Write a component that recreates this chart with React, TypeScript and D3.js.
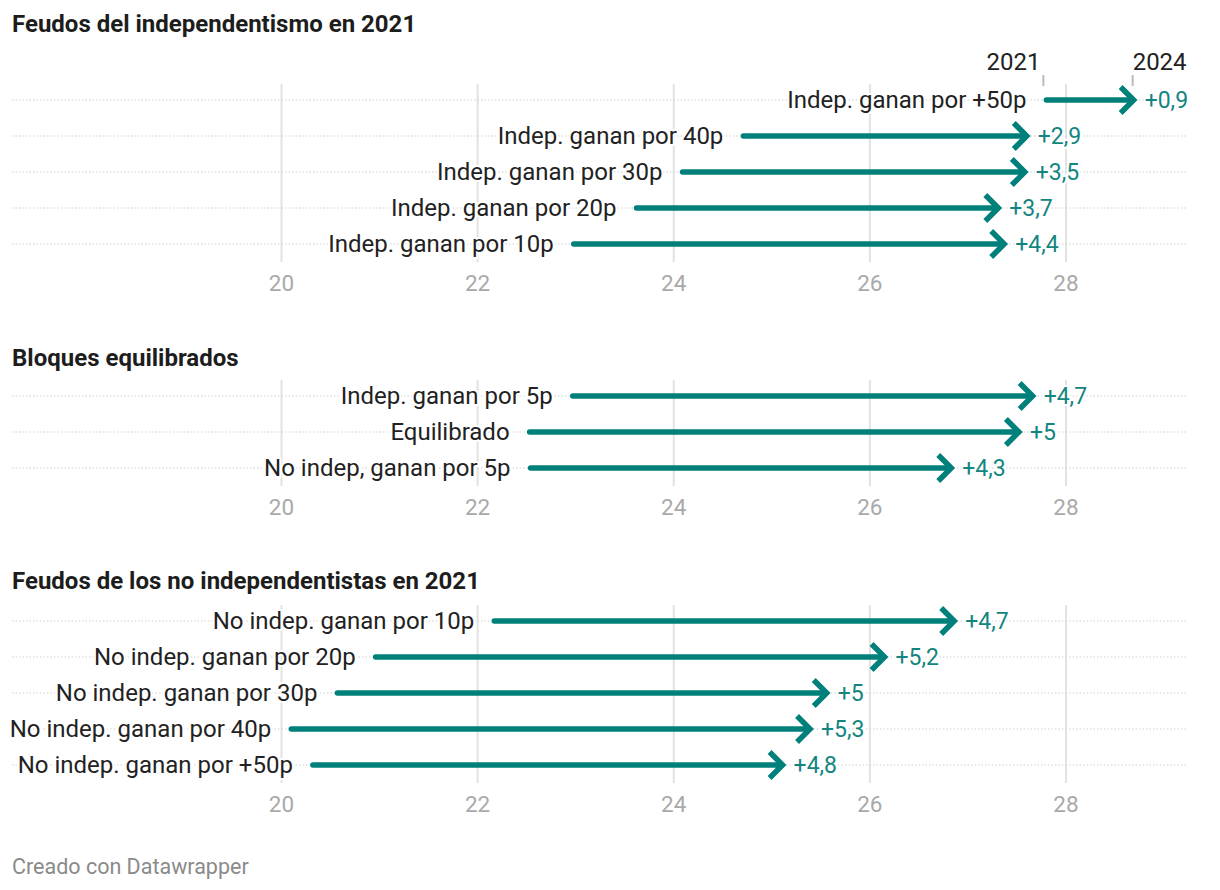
import React from "react";
import * as d3 from "d3";

const sectionTitles = [
  "Feudos del independentismo en 2021",
  "Bloques equilibrados",
  "Feudos de los no independentistas en 2021",
];

const labels1 = [
  "Indep. ganan por +50p",
  "Indep. ganan por 40p",
  "Indep. ganan por 30p",
  "Indep. ganan por 20p",
  "Indep. ganan por 10p",
];
const start1 = [27.8, 24.71, 24.09, 23.62, 22.98];
const end1 = [28.7, 27.61, 27.59, 27.32, 27.38];

const labels2 = ["Indep. ganan por 5p", "Equilibrado", "No indep, ganan por 5p"];
const start2 = [22.97, 22.53, 22.54];
const end2 = [27.67, 27.53, 26.84];

const labels3 = [
  "No indep. ganan por 10p",
  "No indep. ganan por 20p",
  "No indep. ganan por 30p",
  "No indep. ganan por 40p",
  "No indep. ganan por +50p",
];
const start3 = [22.17, 20.96, 20.57, 20.1, 20.32];
const end3 = [26.87, 26.16, 25.57, 25.4, 25.12];

const xTicks = [20, 22, 24, 26, 28];
const yearLabels = ["2021", "2024"];
const footer = "Creado con Datawrapper";

const W = 1220;
const H = 890;
const TEAL = "#00807b";
const FONT = "Roboto, 'Noto Sans', sans-serif";

const x = d3.scaleLinear().domain([20, 28]).range([281.5, 1066]);

const sections = [
  { title: sectionTitles[0], labels: labels1, start: start1, end: end1, titleY: 24, firstRow: 100 },
  { title: sectionTitles[1], labels: labels2, start: start2, end: end2, titleY: 358, firstRow: 396 },
  { title: sectionTitles[2], labels: labels3, start: start3, end: end3, titleY: 581, firstRow: 621 },
];
const ROW = 36;

const fmt = (v: number) => {
  const r = Math.round(v * 10) / 10;
  const s = Number.isInteger(r) ? String(r) : r.toFixed(1).replace(".", ",");
  return (r >= 0 ? "+" : "") + s;
};

export default function App() {
  return (
    <div style={{ position: "absolute", left: 0, top: 0 }}>
      <svg width={W} height={H} style={{ display: "block", background: "#fff" }} fontFamily={FONT}>
        {sections.map((sec, si) => {
          const rows = sec.labels.map((_, i) => sec.firstRow + i * ROW);
          const gTop = rows[0] - 16;
          const gBot = rows[rows.length - 1] + 18;
          const axisY = rows[rows.length - 1] + 39;
          return (
            <g key={si}>
              <text x={12} y={sec.titleY} dy="0.35em" fontSize={24} fontWeight={700} fill="#1d1d1d">
                {sec.title}
              </text>
              {xTicks.map((t) => (
                <line key={t} x1={x(t)} x2={x(t)} y1={gTop} y2={gBot} stroke="#e2e2e2" strokeWidth={2} />
              ))}
              {xTicks.map((t) => (
                <text key={"l" + t} x={x(t)} y={axisY} dy="0.35em" textAnchor="middle" fontSize={22.5} fill="#a9a9a9">
                  {t}
                </text>
              ))}
              {rows.map((y, i) => (
                <line key={"d" + i} x1={12} x2={1187} y1={y} y2={y} stroke="#cfcfcf" strokeWidth={1} strokeDasharray="1.5,2" />
              ))}
              {si === 0 && (
                <g>
                  {[sec.start[0], sec.end[0]].map((v, k) => (
                    <g key={"yr" + k}>
                      <line
                        x1={x(v) - (k === 0 ? 3 : 2)}
                        x2={x(v) - (k === 0 ? 3 : 2)}
                        y1={75}
                        y2={86}
                        stroke="#bbbbbb"
                        strokeWidth={2}
                      />
                      <text
                        x={k === 0 ? x(v) - 6 : x(v) - 2}
                        y={62}
                        dy="0.35em"
                        textAnchor={k === 0 ? "end" : "start"}
                        fontSize={24}
                        fill="#222"
                      >
                        {yearLabels[k]}
                      </text>
                    </g>
                  ))}
                </g>
              )}
              {rows.map((y, i) => {
                const xs = x(sec.start[i]);
                const xe = x(sec.end[i]);
                const tip = xe - 1;
                return (
                  <g key={"r" + i}>
                    <text
                      x={xs - 20}
                      y={y}
                      dy="0.35em"
                      textAnchor="end"
                      fontSize={24}
                      fill="#222"
                      stroke="#fff"
                      strokeWidth={4}
                      paintOrder="stroke"
                    >
                      {sec.labels[i]}
                    </text>
                    <line x1={xs} x2={tip - 3} y1={y} y2={y} stroke={TEAL} strokeWidth={5.5} strokeLinecap="round" />
                    <path
                      d={`M${tip - 13},${y - 13} L${tip},${y} L${tip - 13},${y + 13}`}
                      fill="none"
                      stroke={TEAL}
                      strokeWidth={5.5}
                      strokeLinecap="butt"
                      strokeLinejoin="miter"
                    />
                    <text
                      x={xe + 10}
                      y={y}
                      dy="0.35em"
                      fontSize={23}
                      fill="#13857f"
                      stroke="#fff"
                      strokeWidth={4}
                      paintOrder="stroke"
                    >
                      {fmt(sec.end[i] - sec.start[i])}
                    </text>
                  </g>
                );
              })}
            </g>
          );
        })}
        <text x={12} y={866} dy="0.35em" fontSize={21.5} fill="#8a8a8a">
          {footer}
        </text>
      </svg>
    </div>
  );
}
